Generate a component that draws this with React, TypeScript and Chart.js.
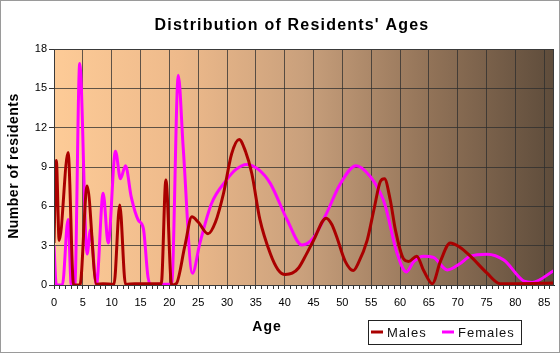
import React, { useEffect, useRef } from "react";
import { Chart, registerables } from "chart.js";

Chart.register(...registerables);

const TITLE = "Distribution of Residents' Ages";
const X_TITLE = "Age";
const Y_TITLE = "Number of residents";
const SERIES_NAMES = ["Males", "Females"];

const maleAges = [0, 0.4, 0.9, 2.44, 3.4, 4.5, 5.74, 7.36, 8.5, 10.4, 11.4, 12.4, 14, 16, 18.6, 19.4, 20.4, 21.2, 22.7, 23.9, 25, 26.7, 28, 29.4, 30.8, 32.1, 33.2, 34.3, 35.7, 37.5, 38.8, 40.1, 41.3, 42.4, 43.7, 45, 47.2, 48.2, 49, 50.5, 51.9, 52.8, 54.3, 55.5, 56.6, 57.3, 58.3, 59.2, 60.6, 61.5, 62.9, 64.1, 65.6, 67, 68.7, 70.3, 72.2, 75.1, 77.4, 80, 86.7];
const maleCounts = [3.2, 9.5, 3.4, 10.1, 0, 0, 7.55, 0.05, 0.1, 0.05, 6.1, 0.05, 0.1, 0.1, 0.1, 8.0, 0, 0.1, 3, 5.2, 4.8, 3.9, 4.8, 7, 10, 11.1, 10.2, 8.5, 5, 2.4, 1.2, 0.8, 0.9, 1.3, 2.3, 3.4, 5.1, 4.6, 3.7, 1.8, 1.1, 1.7, 3.4, 5.8, 7.9, 8.1, 6.5, 4.2, 2, 1.8, 2.2, 1.1, 0.1, 1.8, 3.2, 2.9, 2.2, 0.9, 0.1, 0.1, 0.15];

const femaleAges = [0, 0.4, 1.45, 2.44, 3.0, 3.6, 4.46, 5.74, 6.32, 7.36, 8.52, 9.4, 10.66, 11.53, 12.4, 13.4, 14.6, 15.5, 16.3, 16.9, 18, 20.4, 21.55, 22.4, 24.0, 25.3, 27.3, 29.9, 31.5, 33.4, 35.5, 37.5, 40.4, 43, 45, 47.3, 49.5, 52.4, 54.8, 56.6, 57.4, 59.5, 61.1, 62.4, 64.1, 65.8, 68.2, 70.3, 72.2, 75.1, 78, 81.5, 82.9, 86.7];
const femaleCounts = [3, 0, 0, 5, 0, 0, 16.9, 2.36, 4.2, 0, 7.0, 3.2, 10.2, 8.1, 9.1, 6.7, 4.96, 4.3, 0.6, 0, 0.05, 0.05, 16.0, 10.5, 0.9, 3.2, 6.2, 8, 8.8, 9.2, 8.8, 7.75, 5, 3.05, 3.6, 5.5, 7.6, 9.1, 8.3, 7, 6.1, 2.4, 1, 1.8, 2.2, 2.1, 1.15, 1.6, 2.2, 2.35, 1.9, 0.3, 0.2, 1.1];

const X_MAX = 86.7;
const Y_MAX = 18;
const Y_STEP = 3;
const X_LABEL_STEP = 5;

const MALE_COLOR = "#aa0000";
const FEMALE_COLOR = "#ff00ff";
const FONT = 'Arial, "Liberation Sans", sans-serif';

function pts(xs: number[], ys: number[]) {
  return xs.map((x, i) => ({ x, y: ys[i] }));
}

export default function App() {
  const ref = useRef<HTMLCanvasElement | null>(null);

  useEffect(() => {
    const canvas = ref.current;
    if (!canvas) return;

    const decor = {
      id: "decor",
      beforeDraw(chart: any) {
        const { ctx, chartArea: a } = chart;
        ctx.save();
        ctx.fillStyle = "#ffffff";
        ctx.fillRect(0, 0, chart.width, chart.height);
        const g = ctx.createLinearGradient(a.left, 0, a.right, 0);
        g.addColorStop(0, "#fdcb97");
        g.addColorStop(0.25, "#eeba8b");
        g.addColorStop(0.5, "#c9a07c");
        g.addColorStop(0.75, "#927358");
        g.addColorStop(1, "#5e4c3b");
        ctx.fillStyle = g;
        ctx.fillRect(a.left, a.top, a.right - a.left, a.bottom - a.top);
        ctx.restore();
      },
      afterDraw(chart: any) {
        const { ctx, chartArea: a } = chart;
        ctx.save();
        ctx.strokeStyle = "#3a3a3a";
        ctx.lineWidth = 1;
        ctx.strokeRect(Math.round(a.left) + 0.5, Math.round(a.top) + 0.5, Math.round(a.right - a.left) - 1, Math.round(a.bottom - a.top));
        ctx.strokeStyle = "#9a9a9a";
        ctx.strokeRect(0.5, 0.5, chart.width - 1, chart.height - 1);

        ctx.fillStyle = "#000";
        ctx.textBaseline = "alphabetic";
        ctx.font = `bold 16px ${FONT}`;
        (ctx as any).letterSpacing = "1.2px";
        ctx.textAlign = "center";
        ctx.fillText(TITLE, 292, 30);
        ctx.font = `bold 14px ${FONT}`;
        (ctx as any).letterSpacing = "1px";
        ctx.fillText(X_TITLE, 267, 331);
        ctx.save();
        ctx.translate(18, 166);
        ctx.rotate(-Math.PI / 2);
        ctx.font = `bold 14px ${FONT}`;
        (ctx as any).letterSpacing = "0.5px";
        ctx.fillText(Y_TITLE, 0, 0);
        ctx.restore();

        ctx.strokeStyle = "#222";
        ctx.lineWidth = 1;
        ctx.strokeRect(368.5, 320.5, 153, 24);
        const items = [
          { name: SERIES_NAMES[0], color: MALE_COLOR, x: 371 },
          { name: SERIES_NAMES[1], color: FEMALE_COLOR, x: 442 },
        ];
        ctx.font = `13px ${FONT}`;
        (ctx as any).letterSpacing = "1px";
        ctx.textAlign = "left";
        for (const it of items) {
          ctx.strokeStyle = it.color;
          ctx.lineWidth = 3;
          ctx.beginPath();
          ctx.moveTo(it.x, 332);
          ctx.lineTo(it.x + 12, 332);
          ctx.stroke();
          ctx.fillStyle = "#111";
          ctx.fillText(it.name, it.x + 16, 337);
        }
        ctx.restore();
      },
    };

    const chart = new Chart(canvas, {
      type: "line",
      data: {
        datasets: [
          {
            label: SERIES_NAMES[0],
            data: pts(maleAges, maleCounts),
            borderColor: MALE_COLOR,
            borderWidth: 3,
            pointRadius: 0,
            cubicInterpolationMode: "monotone",
            fill: false,
          },
          {
            label: SERIES_NAMES[1],
            data: pts(femaleAges, femaleCounts),
            borderColor: FEMALE_COLOR,
            borderWidth: 3,
            pointRadius: 0,
            cubicInterpolationMode: "monotone",
            fill: false,
          },
        ],
      },
      options: {
        responsive: false,
        animation: false,
        devicePixelRatio: 1,
        layout: { padding: { top: 49, right: 6, left: 0, bottom: 0 } },
        plugins: { legend: { display: false }, title: { display: false }, tooltip: { enabled: false } },
        scales: {
          x: {
            type: "linear",
            min: 0,
            max: X_MAX,
            afterBuildTicks: (scale: any) => {
              const t = [];
              for (let i = 0; i <= Math.floor(X_MAX); i++) t.push({ value: i });
              scale.ticks = t;
            },
            afterFit: (scale: any) => {
              scale.height = 68;
            },
            ticks: {
              autoSkip: false,
              maxRotation: 0,
              padding: 7,
              color: "#000",
              font: { family: FONT, size: 11 },
              callback: (v: any) => (Number(v) % X_LABEL_STEP === 0 ? String(v) : ""),
            },
            grid: {
              color: (c: any) => (c.tick && c.tick.value % X_LABEL_STEP === 0 && c.tick.value > 0 ? "rgba(45,45,45,0.75)" : "rgba(0,0,0,0)"),
              tickColor: "#333",
              tickLength: 4,
              lineWidth: 1,
            },
            border: { display: true, color: "#222" },
          },
          y: {
            min: 0,
            max: Y_MAX,
            afterFit: (scale: any) => {
              scale.width = 54;
            },
            ticks: {
              stepSize: Y_STEP,
              padding: 2,
              color: "#000",
              font: { family: FONT, size: 11 },
            },
            grid: {
              color: "rgba(45,45,45,0.75)",
              tickColor: "#333",
              tickLength: 5,
              lineWidth: 1,
            },
            border: { display: true, color: "#222" },
          },
        },
      },
      plugins: [decor],
    } as any);

    return () => chart.destroy();
  }, []);

  return (
    <div style={{ position: "absolute", left: 0, top: 0, width: 560, height: 353 }}>
      <canvas ref={ref} width={560} height={353} style={{ display: "block" }} />
    </div>
  );
}
